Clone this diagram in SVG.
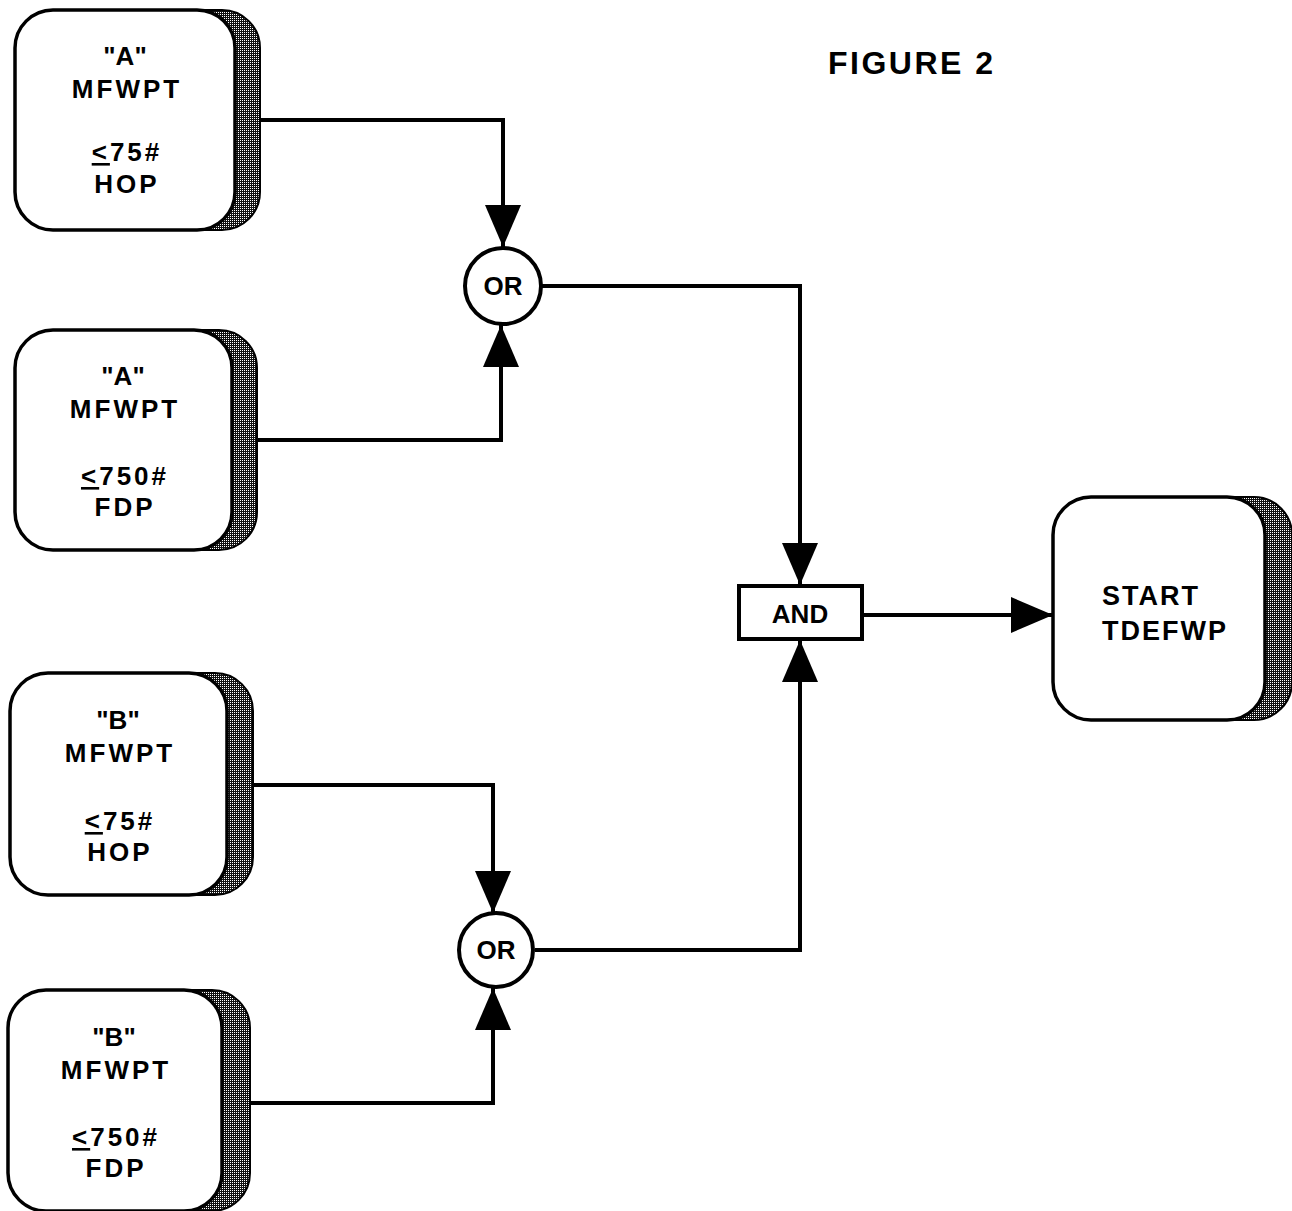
<svg xmlns="http://www.w3.org/2000/svg" width="1292" height="1211" viewBox="0 0 1292 1211">
<defs>
<pattern id="dots" width="2" height="2" patternUnits="userSpaceOnUse">
<rect width="2" height="2" fill="#111"/>
<rect width="1" height="1" fill="#ffffff"/>
</pattern>
<marker id="arr" markerUnits="userSpaceOnUse" markerWidth="42" markerHeight="36" refX="42" refY="18" orient="auto" viewBox="0 0 42 36">
<path d="M0,0 L42,18 L0,36 z" fill="#000"/>
</marker>
</defs>
<style>
.shadow{fill:url(#dots);stroke:#000;stroke-width:2}
.face{fill:#fff;stroke:#000;stroke-width:3.5}
.t{font-family:"Liberation Sans",Arial,sans-serif;font-weight:bold;font-size:26px;letter-spacing:3px;text-anchor:middle;fill:#000}
.q{letter-spacing:0px}
.tl{font-family:"Liberation Sans",Arial,sans-serif;font-weight:bold;font-size:27px;letter-spacing:2px;fill:#000}
.gate{fill:#fff;stroke:#000;stroke-width:4}
.g{font-family:"Liberation Sans",Arial,sans-serif;font-weight:bold;font-size:26px;text-anchor:middle;fill:#000}
.c{fill:none;stroke:#000;stroke-width:4;marker-end:url(#arr)}
</style>
<rect width="1292" height="1211" fill="#fff"/>
<text x="828" y="74" class="tl" style="font-size:32px;letter-spacing:2.5px">FIGURE 2</text>

<g id="connectors">
<path class="c" d="M258,120 H503 V247"/>
<path class="c" d="M255,440 H501 V325"/>
<path class="c" d="M541,286 H800 V585"/>
<path class="c" d="M535,950 H800 V640"/>
<path class="c" d="M862,615 H1053"/>
<path class="c" d="M253,785 H493 V913"/>
<path class="c" d="M250,1103 H493 V988"/>
</g>

<g id="boxA1">
<rect class="shadow" x="40" y="10" width="220" height="220" rx="38"/>
<rect class="face" x="15" y="10" width="220" height="220" rx="38"/>
<text class="t q" x="125" y="65">"A"</text>
<text class="t" x="127" y="98">MFWPT</text>
<text class="t" x="127" y="161"><tspan text-decoration="underline">&lt;</tspan>75#</text>
<text class="t" x="127" y="193">HOP</text>
</g>

<g id="boxA2">
<rect class="shadow" x="38" y="330" width="219" height="220" rx="38"/>
<rect class="face" x="15" y="330" width="217" height="220" rx="38"/>
<text class="t q" x="123" y="385">"A"</text>
<text class="t" x="125" y="418">MFWPT</text>
<text class="t" x="125" y="485"><tspan text-decoration="underline">&lt;</tspan>750#</text>
<text class="t" x="125" y="516">FDP</text>
</g>

<g id="boxB1">
<rect class="shadow" x="35" y="673" width="218" height="222" rx="38"/>
<rect class="face" x="10" y="673" width="217" height="222" rx="38"/>
<text class="t q" x="118" y="729">"B"</text>
<text class="t" x="120" y="762">MFWPT</text>
<text class="t" x="120" y="830"><tspan text-decoration="underline">&lt;</tspan>75#</text>
<text class="t" x="120" y="861">HOP</text>
</g>

<g id="boxB2">
<rect class="shadow" x="33" y="990" width="217" height="221" rx="38"/>
<rect class="face" x="8" y="990" width="214" height="221" rx="38"/>
<text class="t q" x="114" y="1046">"B"</text>
<text class="t" x="116" y="1079">MFWPT</text>
<text class="t" x="116" y="1146"><tspan text-decoration="underline">&lt;</tspan>750#</text>
<text class="t" x="116" y="1177">FDP</text>
</g>

<g id="start">
<rect class="shadow" x="1078" y="497" width="214" height="223" rx="38"/>
<rect class="face" x="1053" y="497" width="212" height="223" rx="38"/>
<text class="tl" x="1102" y="605">START</text>
<text class="tl" x="1102" y="640">TDEFWP</text>
</g>

<g id="or1">
<circle class="gate" cx="503" cy="286" r="38"/>
<text class="g" x="503" y="295">OR</text>
</g>

<g id="or2">
<circle class="gate" cx="496" cy="950" r="37"/>
<text class="g" x="496" y="959">OR</text>
</g>

<g id="and">
<rect class="gate" x="739" y="586" width="123" height="53"/>
<text class="g" x="800" y="623">AND</text>
</g>
</svg>
